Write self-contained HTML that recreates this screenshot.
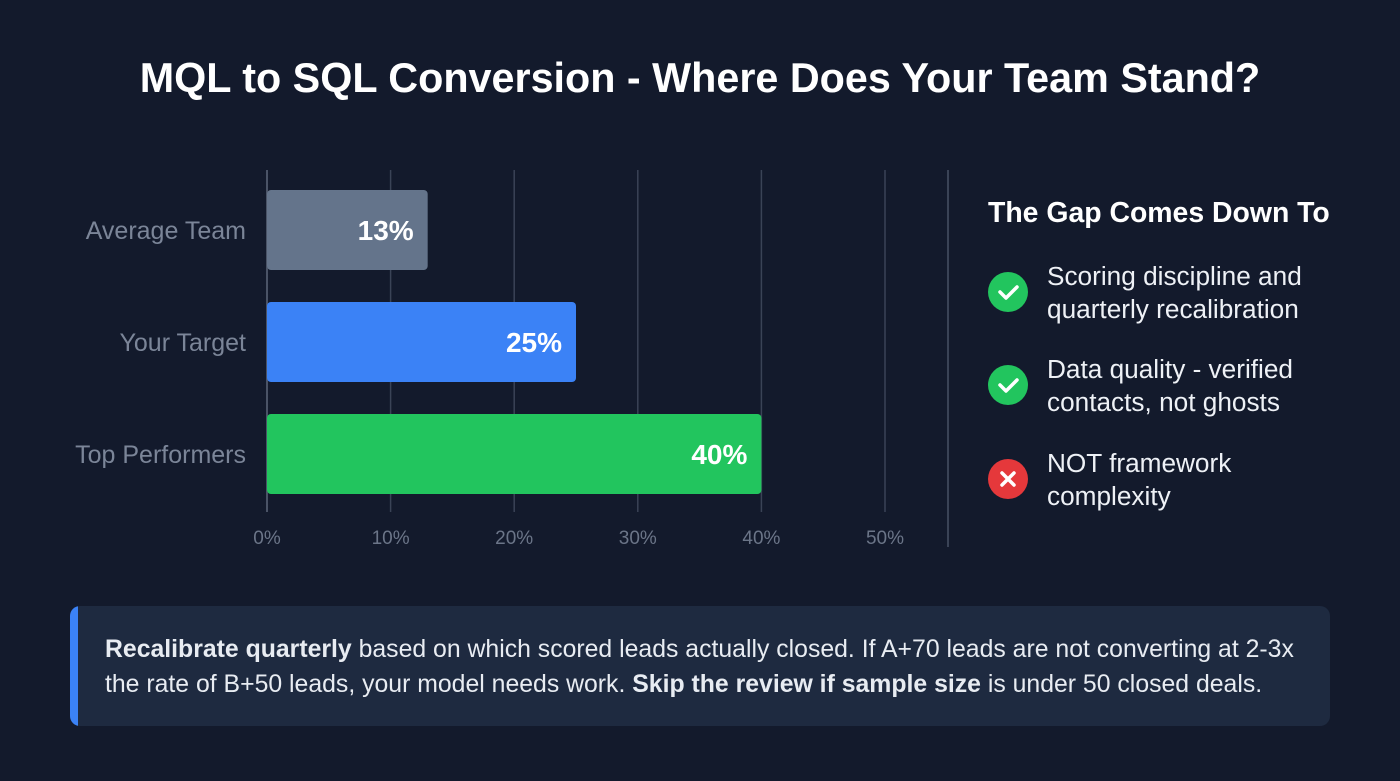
<!DOCTYPE html>
<html><head><meta charset="utf-8"><style>
body{margin:0;width:1400px;height:781px;background:#131a2c;font-family:"Liberation Sans",sans-serif;overflow:hidden;position:relative;color:#fff}
.title{position:absolute;top:55px;left:0;width:1400px;text-align:center;font-size:41.3px;font-weight:bold;color:#fff}
.side{position:absolute;left:988px}
.side h3{margin:0;position:absolute;top:197px;font-size:28.4px;font-weight:bold;white-space:nowrap}
.item{position:absolute;left:0;width:400px}
.ic{position:absolute;left:0;width:40px;height:40px;border-radius:50%;}
.it{position:absolute;left:59px;font-size:26.2px;line-height:33px;color:#eef1f6;white-space:nowrap}
.card{position:absolute;left:70px;top:606px;width:1260px;height:120px;background:#1e2a40;border-radius:10px;overflow:hidden}
.card .bar{position:absolute;left:0;top:0;width:8px;height:100%;background:#3b82f6}
.card p{position:absolute;left:35px;top:26px;margin:0;font-size:24.8px;line-height:35px;color:#e8ecf2;white-space:nowrap}
</style></head><body>
<div class="title">MQL to SQL Conversion - Where Does Your Team Stand?</div>
<svg id="chart" width="960" height="580" style="position:absolute;left:0;top:0"></svg>
<div style="position:absolute;left:947px;top:170px;width:2px;height:377px;background:#3a4356"></div>
<div class="side">
<h3>The Gap Comes Down To</h3>
<div class="item" style="top:272px">
<div class="ic" style="top:0;background:#22c55e"><svg width="40" height="40"><path d="M12 20l6 6 11-11" stroke="#fff" stroke-width="3.5" fill="none" stroke-linecap="round" stroke-linejoin="round"/></svg></div>
<div class="it" style="top:-12px">Scoring discipline and<br>quarterly recalibration</div></div>
<div class="item" style="top:365px">
<div class="ic" style="top:0;background:#22c55e"><svg width="40" height="40"><path d="M12 20l6 6 11-11" stroke="#fff" stroke-width="3.5" fill="none" stroke-linecap="round" stroke-linejoin="round"/></svg></div>
<div class="it" style="top:-12px">Data quality - verified<br>contacts, not ghosts</div></div>
<div class="item" style="top:459px">
<div class="ic" style="top:0;background:#e5383b"><svg width="40" height="40"><path d="M14 14l12 12M26 14l-12 12" stroke="#fff" stroke-width="3.5" stroke-linecap="round"/></svg></div>
<div class="it" style="top:-12px">NOT framework<br>complexity</div></div>
</div>
<div class="card"><div class="bar"></div>
<p><b>Recalibrate quarterly</b> based on which scored leads actually closed. If A+70 leads are not converting at 2-3x<br>the rate of B+50 leads, your model needs work. <b>Skip the review if sample size</b> is under 50 closed deals.</p></div>
<script>
const categories=["Average Team","Your Target","Top Performers"];
const values=[13,25,40];
const colors=["#64748b","#3b82f6","#22c55e"];
const ticks=[0,10,20,30,40,50];
const svg=document.getElementById('chart');
const NS="http://www.w3.org/2000/svg";
const x=v=>267+v*12.36;
const yc=i=>230+i*112;
function el(t,a){const e=document.createElementNS(NS,t);for(const k in a)e.setAttribute(k,a[k]);svg.appendChild(e);return e;}
ticks.forEach(t=>{
 const l=el('line',{x1:x(t),x2:x(t),y1:170,y2:512,stroke:t===0?'#4a5366':'#3a4356','stroke-width':t===0?2:1.5});
 
 
 const tx=el('text',{x:x(t),y:544,'text-anchor':'middle','font-size':19,fill:'#6b7588','font-family':'Liberation Sans, sans-serif'});
 tx.textContent=t+'%';
 
 
});
categories.forEach((c,i)=>{
 const r=el('rect',{x:x(0),y:yc(i)-40,width:x(values[i])-x(0),height:80,rx:4,fill:colors[i]});
 
 
 const lb=el('text',{x:246,y:yc(i)+9,'text-anchor':'end','font-size':25,fill:'#7b8598','font-family':'Liberation Sans, sans-serif'});
 lb.textContent=c;
 
 
 const v=el('text',{x:x(values[i])-14,y:yc(i)+10,'text-anchor':'end','font-size':28,'font-weight':'bold',fill:'#fff','font-family':'Liberation Sans, sans-serif'});
 v.textContent=values[i]+'%';
 
 
});
</script>
</body></html>
